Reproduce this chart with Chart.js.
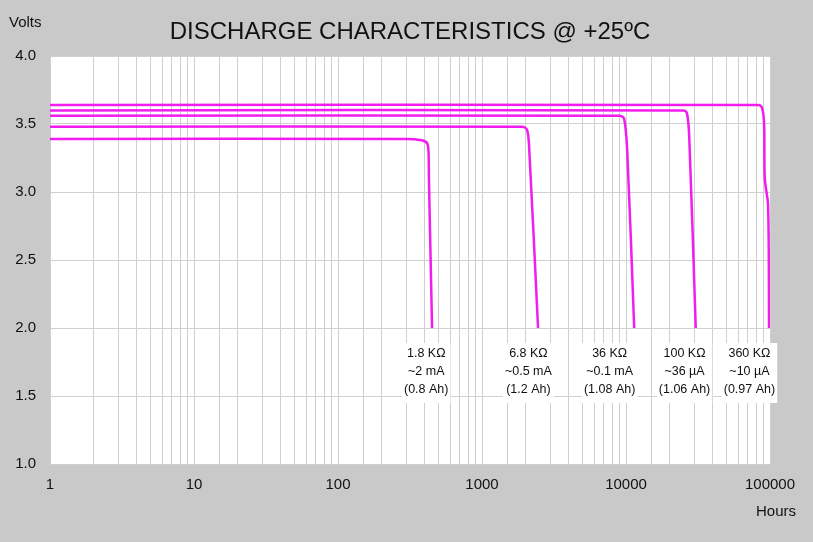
<!DOCTYPE html>
<html>
<head>
<meta charset="utf-8">
<script src="https://cdn.jsdelivr.net/npm/chart.js@4"></script>
<style>
  html, body { margin: 0; padding: 0; background: #c9c9c9; }
  #wrap { width: 813px; height: 542px; position: relative; }
</style>
</head>
<body>
<div id="wrap"><canvas id="chart" width="813" height="542"></canvas></div>
<script>
// discharge curves, hours vs volts
const curve18k  = [[1,3.39],[300,3.39],[380,3.38],[415,3.36],[425,3.30],[428,3.10],[450,2.0]];
const curve68k  = [[1,3.48],[1900,3.48],[2050,3.46],[2120,3.35],[2450,2.0]];
const curve36k  = [[1,3.56],[9000,3.56],[9700,3.54],[10200,3.30],[11400,2.0]];
const curve100k = [[1,3.60],[25000,3.60],[26500,3.58],[27500,3.40],[30500,2.0]];
const curve360k = [[1,3.64],[83000,3.64],[88000,3.62],[91000,3.50],[92000,3.10],[97000,2.90],[98500,2.0]];
const curves = [curve18k, curve68k, curve36k, curve100k, curve360k];

const noteCenters = [410, 2100, 7700, 25500, 72000];
const noteLines = [
    ['1.8 KΩ', '~2 mA', '(0.8 Ah)'],
    ['6.8 KΩ', '~0.5 mA', '(1.2 Ah)'],
    ['36 KΩ', '~0.1 mA', '(1.08 Ah)'],
    ['100 KΩ', '~36 µA', '(1.06 Ah)'],
    ['360 KΩ', '~10 µA', '(0.97 Ah)']
];

const plotBg = {
    id: 'plotBg',
    beforeDraw(c) {
        const a = c.chartArea, x = c.ctx;
        x.save(); x.fillStyle = '#fff'; x.fillRect(a.left, a.top, a.right - a.left, a.bottom - a.top); x.restore();
    },
    afterDatasetsDraw(c) {
        const x = c.ctx, sx = c.scales.x, sy = c.scales.y;
        x.save();
        x.font = '12.5px Arial, "Liberation Sans", sans-serif';
        x.textAlign = 'center'; x.textBaseline = 'middle';
        noteLines.forEach((lines, i) => {
            const cx = sx.getPixelForValue(noteCenters[i]);
            const w = Math.max(...lines.map(l => x.measureText(l).width)) + 4;
            const top = sy.getPixelForValue(2.0) + 15;
            x.fillStyle = '#fff';
            x.fillRect(cx - w / 2, top, w, 60);
            x.fillStyle = '#111';
            lines.forEach((l, j) => x.fillText(l, cx, top + 11 + j * 18));
        });
        x.restore();
    },
    afterDraw(c) {
        const x = c.ctx;
        x.save();
        x.fillStyle = '#111';
        x.font = '24px Arial, "Liberation Sans", sans-serif';
        x.textAlign = 'center'; x.textBaseline = 'middle';
        x.fillText('DISCHARGE CHARACTERISTICS @ +25ºC', 410, 32);
        x.font = '15px Arial, "Liberation Sans", sans-serif';
        x.textAlign = 'left';
        x.fillText('Volts', 9, 23);
        x.textAlign = 'center';
        x.fillText('Hours', 776, 512);
        x.restore();
    }
};

new Chart(document.getElementById('chart'), {
    type: 'line',
    data: {
        datasets: curves.map(cv => ({
            data: cv.map(p => ({ x: p[0], y: p[1] })),
            borderColor: '#f21cf0', borderWidth: 2.5, pointRadius: 0, tension: 0.3, fill: false
        }))
    },
    options: {
        responsive: false, animation: false,
        layout: { padding: { top: 56, right: 43, left: 0, bottom: 0 } },
        plugins: { legend: { display: false }, tooltip: { enabled: false } },
        scales: {
            x: {
                type: 'logarithmic', min: 1, max: 100000,
                grid: { color: '#cfcfcf', lineWidth: 1, drawTicks: false },
                border: { display: false },
                afterFit: s => { s.height = 78; },
                ticks: {
                    autoSkip: false, maxRotation: 0, color: '#111', padding: 12,
                    font: { size: 15, family: 'Arial, "Liberation Sans", sans-serif' },
                    callback: v => { const l = Math.log10(v); return Math.abs(l - Math.round(l)) < 1e-9 ? String(v) : ''; }
                }
            },
            y: {
                min: 1.0, max: 4.0,
                grid: { color: '#cfcfcf', lineWidth: 1, drawTicks: false },
                border: { display: false },
                afterFit: s => { s.width = 50; },
                ticks: {
                    stepSize: 0.5, color: '#111', padding: 14,
                    font: { size: 15, family: 'Arial, "Liberation Sans", sans-serif' },
                    callback: v => v.toFixed(1)
                }
            }
        }
    },
    plugins: [plotBg]
});
</script>
</body>
</html>
